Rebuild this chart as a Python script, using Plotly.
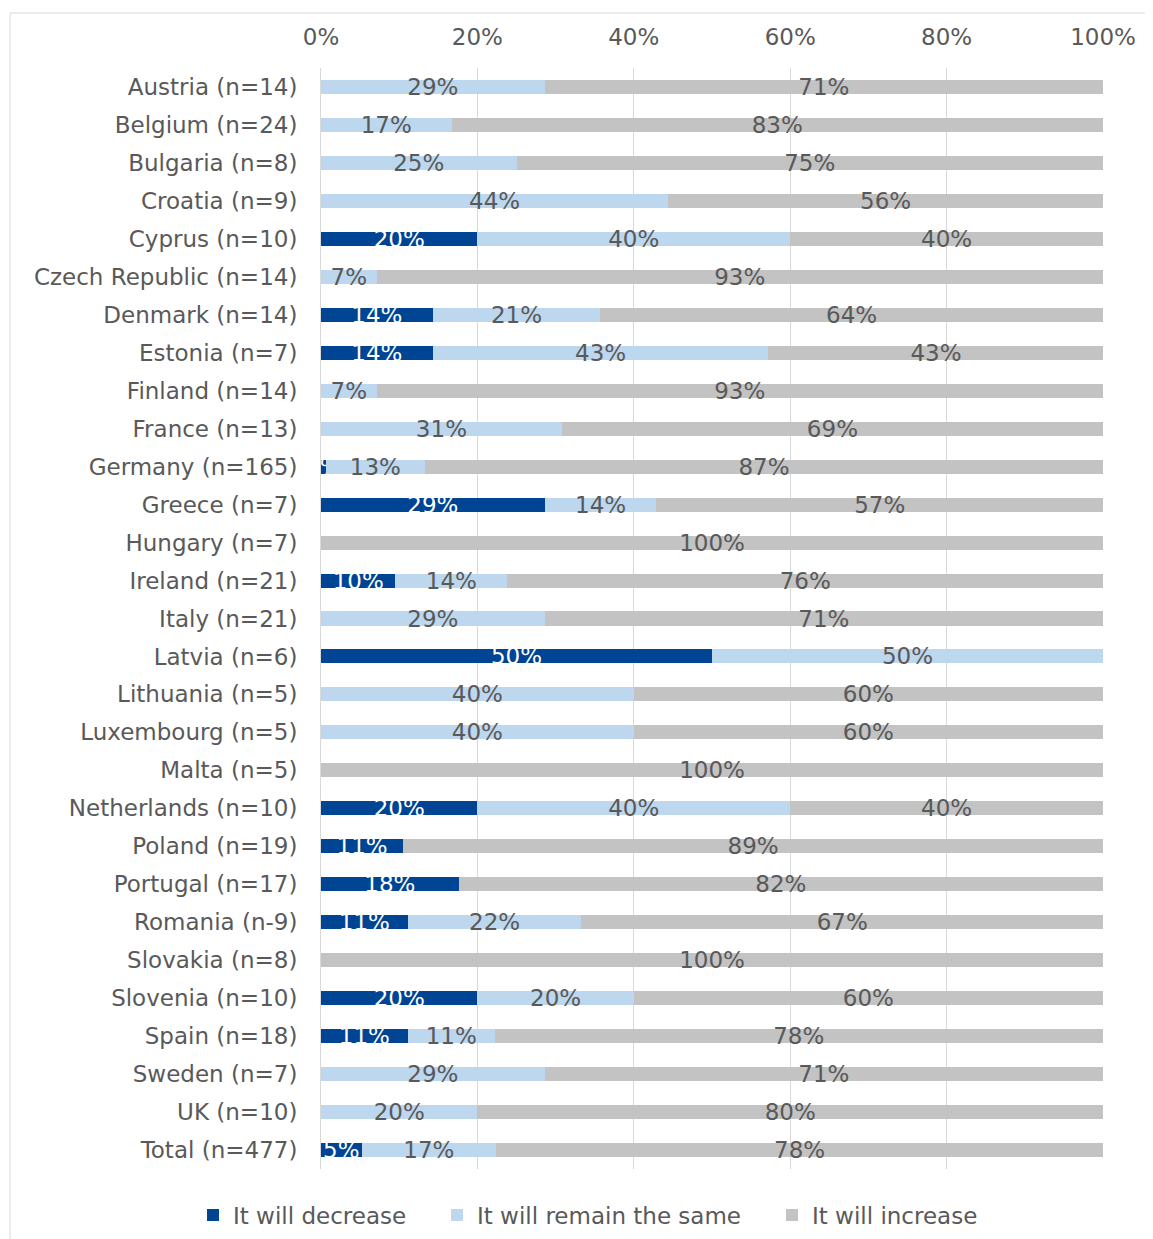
import plotly.graph_objects as go

categories = ["Austria (n=14)", "Belgium (n=24)", "Bulgaria (n=8)", "Croatia (n=9)",
              "Cyprus (n=10)", "Czech Republic (n=14)", "Denmark (n=14)", "Estonia (n=7)",
              "Finland (n=14)", "France (n=13)", "Germany (n=165)", "Greece (n=7)",
              "Hungary (n=7)", "Ireland (n=21)", "Italy (n=21)", "Latvia (n=6)",
              "Lithuania (n=5)", "Luxembourg (n=5)", "Malta (n=5)", "Netherlands (n=10)",
              "Poland (n=19)", "Portugal (n=17)", "Romania (n-9)", "Slovakia (n=8)",
              "Slovenia (n=10)", "Spain (n=18)", "Sweden (n=7)", "UK (n=10)", "Total (n=477)"]

decrease = [0, 0, 0, 0, 20, 0, 14.3, 14.3, 0, 0, 0.6, 28.6, 0, 9.52, 0, 50,
            0, 0, 0, 20, 10.53, 17.6, 11.1, 0, 20, 11.1, 0, 0, 5.2]
remain = [28.6, 16.7, 25, 44.4, 40, 7.1, 21.4, 42.9, 7.1, 30.8, 12.7, 14.3, 0, 14.3, 28.6, 50,
          40, 40, 0, 40, 0, 0, 22.2, 0, 20, 11.1, 28.6, 20, 17.2]
increase = [71.4, 83.3, 75, 55.6, 40, 92.9, 64.3, 42.9, 92.9, 69.2, 86.7, 57.1, 100, 76.2, 71.4, 0,
            60, 60, 100, 40, 89.47, 82.4, 66.7, 100, 60, 77.8, 71.4, 80, 77.6]

series_names = ["It will decrease", "It will remain the same", "It will increase"]
x_ticks = [0, 20, 40, 60, 80, 100]
x_tick_labels = ["0%", "20%", "40%", "60%", "80%", "100%"]

colors = ["#004494", "#bdd7ee", "#c3c3c3"]
text_colors = ["#ffffff", "#595959", "#595959"]
legend_ids = ["legend", "legend2", "legend3"]
FONT = "DejaVu Sans"
FS = 23

# figure is offset 8px by the page's body margin
W, H = 1145, 1231
ML, MR, MT, MB = 313, 50, 60, 70
PW = W - ML - MR
PH = H - MT - MB


def labels(vals):
    return [f"{v:.0f}%" if v > 0 else "" for v in vals]


fig = go.Figure()
for name, vals, c, tc, lg in zip(series_names, [decrease, remain, increase], colors, text_colors, legend_ids):
    fig.add_trace(go.Bar(
        y=categories, x=vals, name=name, orientation="h",
        marker=dict(color=c, line=dict(width=0)),
        text=labels(vals), textposition="inside", insidetextanchor="middle",
        textangle=0, constraintext="none",
        textfont=dict(family=FONT, size=FS, color=tc),
        hoverinfo="skip", legend=lg,
    ))


def legend_at(px_left):
    return dict(xref="container", yref="container",
                x=px_left / W, xanchor="left", y=1 - 1207 / H, yanchor="middle",
                bgcolor="rgba(0,0,0,0)", font=dict(family=FONT, size=FS, color="#595959"),
                itemwidth=30)


fig.update_layout(
    barmode="stack",
    bargap=0.63,
    width=W, height=H,
    margin=dict(l=ML, r=MR, t=MT, b=MB, autoexpand=False),
    paper_bgcolor="white", plot_bgcolor="white",
    font=dict(family=FONT, size=FS, color="#595959"),
    uniformtext=dict(minsize=FS, mode="show"),
    showlegend=True,
    legend=legend_at(185),
    legend2=legend_at(429),
    legend3=legend_at(764),
    xaxis=dict(side="top", range=[0, 100], tickvals=x_ticks, ticktext=x_tick_labels,
               showgrid=True, gridcolor="#d9d9d9", gridwidth=1, zeroline=False,
               showline=False, ticks="", ticklabelstandoff=17,
               tickfont=dict(family=FONT, size=FS, color="#595959")),
    yaxis=dict(autorange="reversed", showgrid=False, showline=True, linecolor="#d9d9d9",
               linewidth=1, ticks="", ticklabelstandoff=18,
               tickfont=dict(family=FONT, size=FS, color="#595959")),
    shapes=[dict(type="rect", xref="paper", yref="paper",
                 x0=(2 - ML) / PW, x1=1.2, y0=-0.2, y1=1 + (MT - 5) / PH,
                 line=dict(color="#d9d9d9", width=1), fillcolor="rgba(0,0,0,0)", layer="below")],
)

fig.write_html("out.html")
